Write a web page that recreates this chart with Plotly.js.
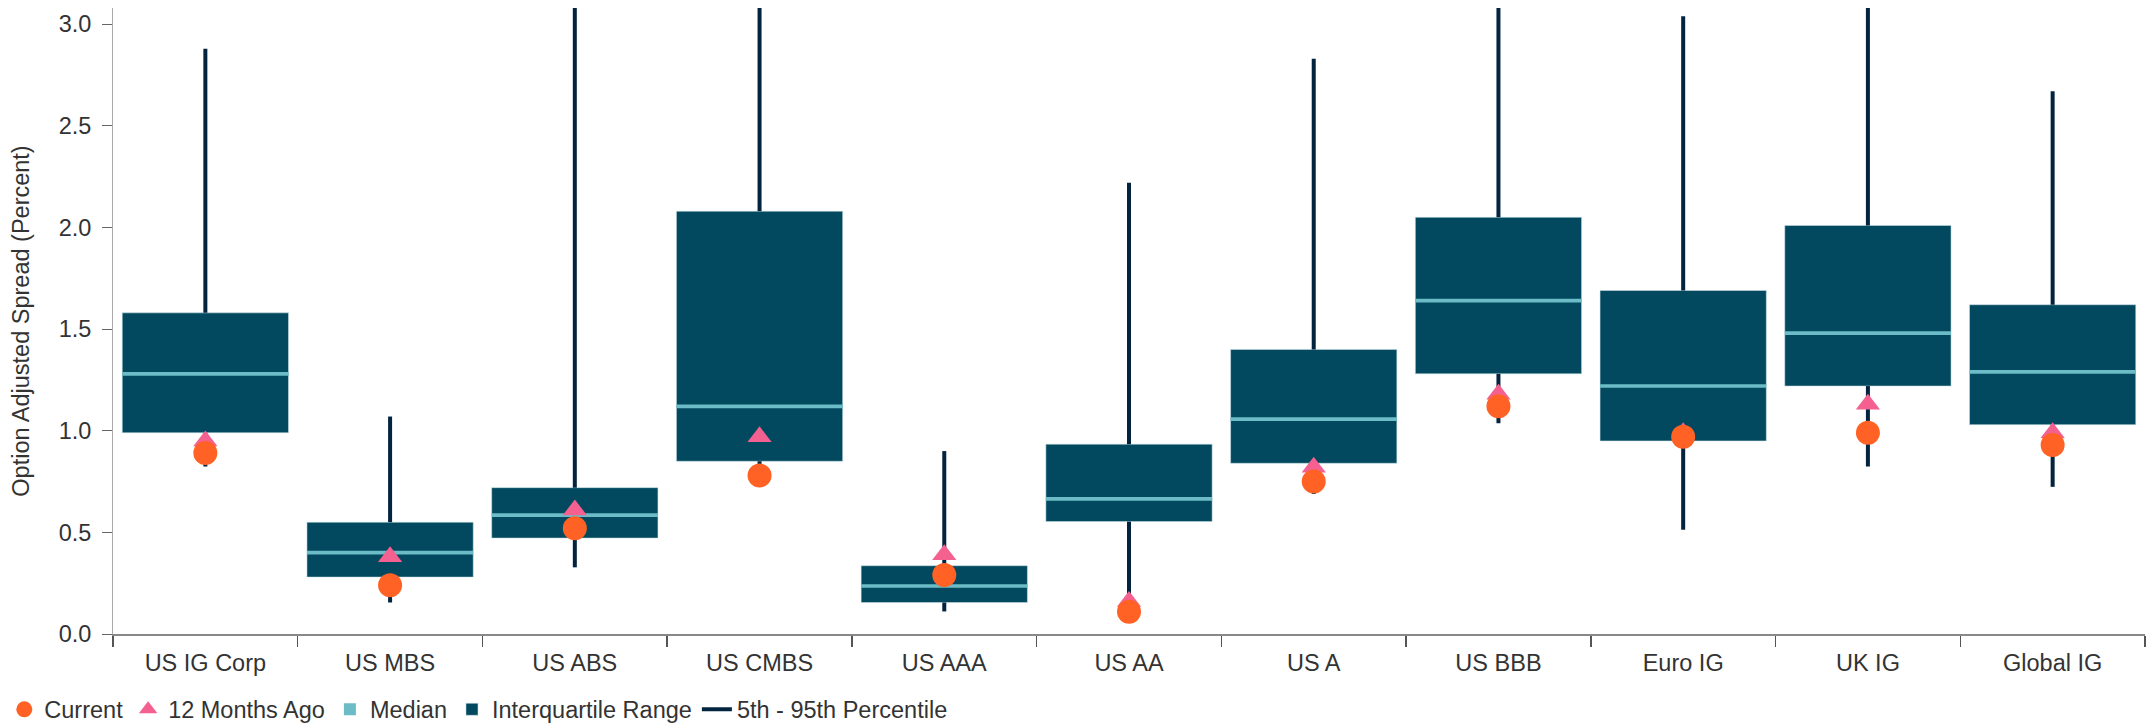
<!DOCTYPE html>
<html>
<head>
<meta charset="utf-8">
<script src="https://cdn.plot.ly/plotly-3.0.1.min.js"></script>
<style>
html,body{margin:0;padding:0;background:#ffffff;}
#chart{width:2149px;height:724px;}
</style>
</head>
<body>
<div id="chart"></div>
<script>
// ---- data (Option Adjusted Spread, percent) ----
const categories = ['US IG Corp','US MBS','US ABS','US CMBS','US AAA','US AA','US A','US BBB','Euro IG','UK IG','Global IG'];
const p95    = [2.88, 1.07, 3.40, 3.60, 0.90, 2.22, 2.83, 3.30, 3.04, 3.35, 2.67];
const q3     = [1.58, 0.55, 0.72, 2.08, 0.336, 0.934, 1.40, 2.05, 1.69, 2.01, 1.62];
const median = [1.28, 0.40, 0.585, 1.12, 0.236, 0.665, 1.057, 1.64, 1.22, 1.48, 1.29];
const q1     = [0.99, 0.28, 0.472, 0.85, 0.155, 0.553, 0.84, 1.28, 0.95, 1.22, 1.03];
const p5     = [0.824, 0.155, 0.328, 0.724, 0.111, 0.12, 0.689, 1.037, 0.513, 0.824, 0.724];
const current     = [0.89, 0.24, 0.52, 0.78, 0.29, 0.11, 0.75, 1.12, 0.97, 0.99, 0.93];
const monthsAgo12 = [0.95, 0.38, 0.61, 0.97, 0.39, 0.16, 0.82, 1.18, 0.99, 1.13, 0.99];

// ---- styles ----
const C_BOX = '#02485e';
const C_MED = '#6bbcc6';
const C_WHISK = '#03243f';
const C_CUR = '#ff6224';
const C_PREV = '#f4608f';
const MED_THICK = 0.018;
const FS = 23.5;

// whisker segments (outside the box)
const wx = [], wy = [];
categories.forEach((c, i) => {
  wx.push(c, c, null, c, c, null);
  wy.push(q3[i], p95[i], null, p5[i], q1[i], null);
});

const traces = [
  {
    type: 'bar', name: 'Interquartile Range', x: categories,
    base: q1, y: q3.map((v, i) => v - q1[i]), width: 0.9,
    marker: {color: C_BOX, line: {color: 'rgba(200,225,232,0.55)', width: 1}},
    legendrank: 4, hoverinfo: 'skip'
  },
  {
    type: 'bar', name: 'Median', x: categories,
    base: median.map(v => v - MED_THICK / 2), y: median.map(() => MED_THICK), width: 0.9,
    marker: {color: C_MED, line: {width: 0}},
    legendrank: 3, hoverinfo: 'skip'
  },
  {
    type: 'scatter', mode: 'lines', name: '5th - 95th Percentile',
    x: wx, y: wy, line: {color: C_WHISK, width: 4}, connectgaps: false,
    legendrank: 5, hoverinfo: 'skip'
  },
  {
    type: 'scatter', mode: 'markers', name: '12 Months Ago', x: categories, y: monthsAgo12,
    marker: {symbol: 'triangle-up', size: 21, color: C_PREV},
    legendrank: 2, cliponaxis: false
  },
  {
    type: 'scatter', mode: 'markers', name: 'Current', x: categories, y: current,
    marker: {symbol: 'circle', size: 24, color: C_CUR},
    legendrank: 1, cliponaxis: false
  }
];

const layout = {
  width: 2149, height: 724,
  margin: {l: 113, r: 4, t: 8, b: 90, pad: 0},
  paper_bgcolor: '#ffffff', plot_bgcolor: '#ffffff',
  font: {family: '"Liberation Sans", Arial, sans-serif', size: FS, color: '#333333'},
  barmode: 'overlay',
  showlegend: true,
  xaxis: {
    type: 'category', tickson: 'boundaries', ticks: 'outside', ticklen: 11,
    tickcolor: '#555555', tickwidth: 1.5, showline: true, linecolor: '#888888', linewidth: 1.5,
    showgrid: false, zeroline: false, range: [-0.5, 10.5], fixedrange: true,
    ticklabelstandoff: 7,
    tickfont: {size: FS, color: '#333333'}
  },
  yaxis: {
    range: [0, 3.08], tick0: 0, dtick: 0.5, tickformat: '.1f',
    ticks: 'outside', ticklen: 10, tickcolor: '#666666', tickwidth: 1,
    showline: true, linecolor: '#aaaaaa', linewidth: 1,
    showgrid: false, zeroline: false, fixedrange: true,
    ticklabelstandoff: 6,
    tickfont: {size: FS, color: '#333333'},
    title: {text: 'Option Adjusted Spread (Percent)', font: {size: FS, color: '#333333'}, standoff: 22}
  },
  legend: {
    orientation: 'h', xref: 'container', yref: 'container',
    x: 0.002, xanchor: 'left', y: 0.02, yanchor: 'middle',
    font: {size: FS, color: '#333333'}, itemwidth: 30, traceorder: 'normal'
  }
};

Plotly.newPlot('chart', traces, layout, {displayModeBar: false, staticPlot: true});
</script>
</body>
</html>
